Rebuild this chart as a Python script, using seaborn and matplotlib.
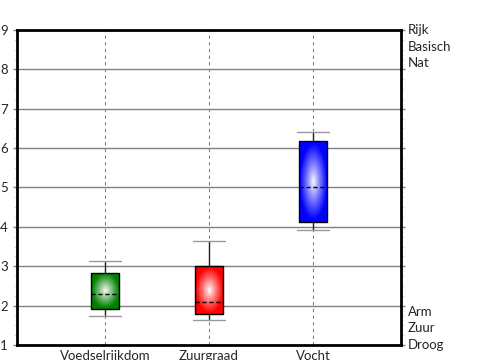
import numpy as np
import pandas as pd
import seaborn as sns
import matplotlib.pyplot as plt
from matplotlib.ticker import MultipleLocator
from matplotlib.colors import to_rgb

# waarden
categories = ['Voedselrijkdom', 'Zuurgraad', 'Vocht']
whisker_low = [1.74, 1.63, 3.91]
q1 = [1.91, 1.79, 4.13]
median = [2.30, 2.10, 5.00]
q3 = [2.83, 3.00, 6.18]
whisker_high = [3.13, 3.64, 6.42]
box_colors = ['#008000', '#ff0000', '#0000ff']
top_labels = ['Rijk', 'Basisch', 'Nat']
bottom_labels = ['Arm', 'Zuur', 'Droog']

# 5 waarden per categorie -> kwartielen vallen precies op q1/mediaan/q3
rows = []
for i, cat in enumerate(categories):
    for v in [whisker_low[i], q1[i], median[i], q3[i], whisker_high[i]]:
        rows.append({'categorie': cat, 'waarde': v})
df = pd.DataFrame(rows)

sns.set_theme(style='white')
plt.rcParams['font.family'] = ['Lato', 'DejaVu Sans']

fig = plt.figure(figsize=(5, 3.6), dpi=100)
ax = fig.add_axes([0.034, 0.0417, 0.768, 0.875])

sns.boxplot(data=df, x='categorie', y='waarde', hue='categorie',
            palette=box_colors, legend=False, whis=(0, 100), width=0.27,
            saturation=1, linecolor='black', linewidth=1,
            medianprops=dict(color='black', linestyle=(0, (3, 2)), linewidth=1),
            capprops=dict(color='#999999', linewidth=1),
            whiskerprops=dict(color='#222222', linewidth=1),
            capwidths=0.3, ax=ax)


def fill_gradient(ax, patch, color):
    bb = patch.get_path().get_extents()
    x0, y0, x1, y1 = bb.x0, bb.y0, bb.x1, bb.y1
    X, Y = np.meshgrid(np.linspace(-1, 1, 80), np.linspace(-1, 1, 160))
    r = np.sqrt(X ** 2 + Y ** 2)
    t = np.clip(r / 0.95, 0, 1) ** 0.9
    c = np.array(to_rgb(color))
    img = (1 - t)[..., None] * np.ones(3) + t[..., None] * c
    im = ax.imshow(img, extent=(x0, x1, y0, y1), origin='lower', aspect='auto',
                   interpolation='bilinear', zorder=patch.get_zorder() - 0.01)
    im.set_clip_path(patch)
    patch.set_facecolor('none')


for patch, col in zip(list(ax.patches), box_colors):
    fill_gradient(ax, patch, col)

ax.set_xlim(-0.846, 2.846)
ax.set_ylim(1, 9)
ax.set_yticks(range(1, 10))
ax.yaxis.set_minor_locator(MultipleLocator(0.25))
ax.set_xlabel('')
ax.set_ylabel('')

ax.set_axisbelow(True)
ax.grid(axis='y', color='#808080', linewidth=1, linestyle='-')
ax.grid(axis='x', color='#808080', linewidth=0.8, linestyle=(0, (3, 3)))

for sp in ax.spines.values():
    sp.set_color('black')
    sp.set_linewidth(2)

ax.tick_params(axis='y', which='major', left=True, right=True, direction='out',
               length=3, width=1, color='#808080', labelsize=9.5, pad=3.5)
ax.tick_params(axis='y', which='minor', left=True, right=True, direction='out',
               length=1.5, width=0.7, color='#a0a0a0')
ax.tick_params(axis='x', bottom=False, labelsize=9.5, pad=-2.5)

for i, lab in enumerate(top_labels):
    ax.annotate(lab, xy=(1, 9), xycoords=('axes fraction', 'data'),
                xytext=(5, -i * 12), textcoords='offset points',
                ha='left', va='center', fontsize=9.5, annotation_clip=False)
for i, lab in enumerate(bottom_labels):
    ax.annotate(lab, xy=(1, 1), xycoords=('axes fraction', 'data'),
                xytext=(5, (2 - i) * 12), textcoords='offset points',
                ha='left', va='center', fontsize=9.5, annotation_clip=False)

fig.savefig('out.png', dpi=100)
